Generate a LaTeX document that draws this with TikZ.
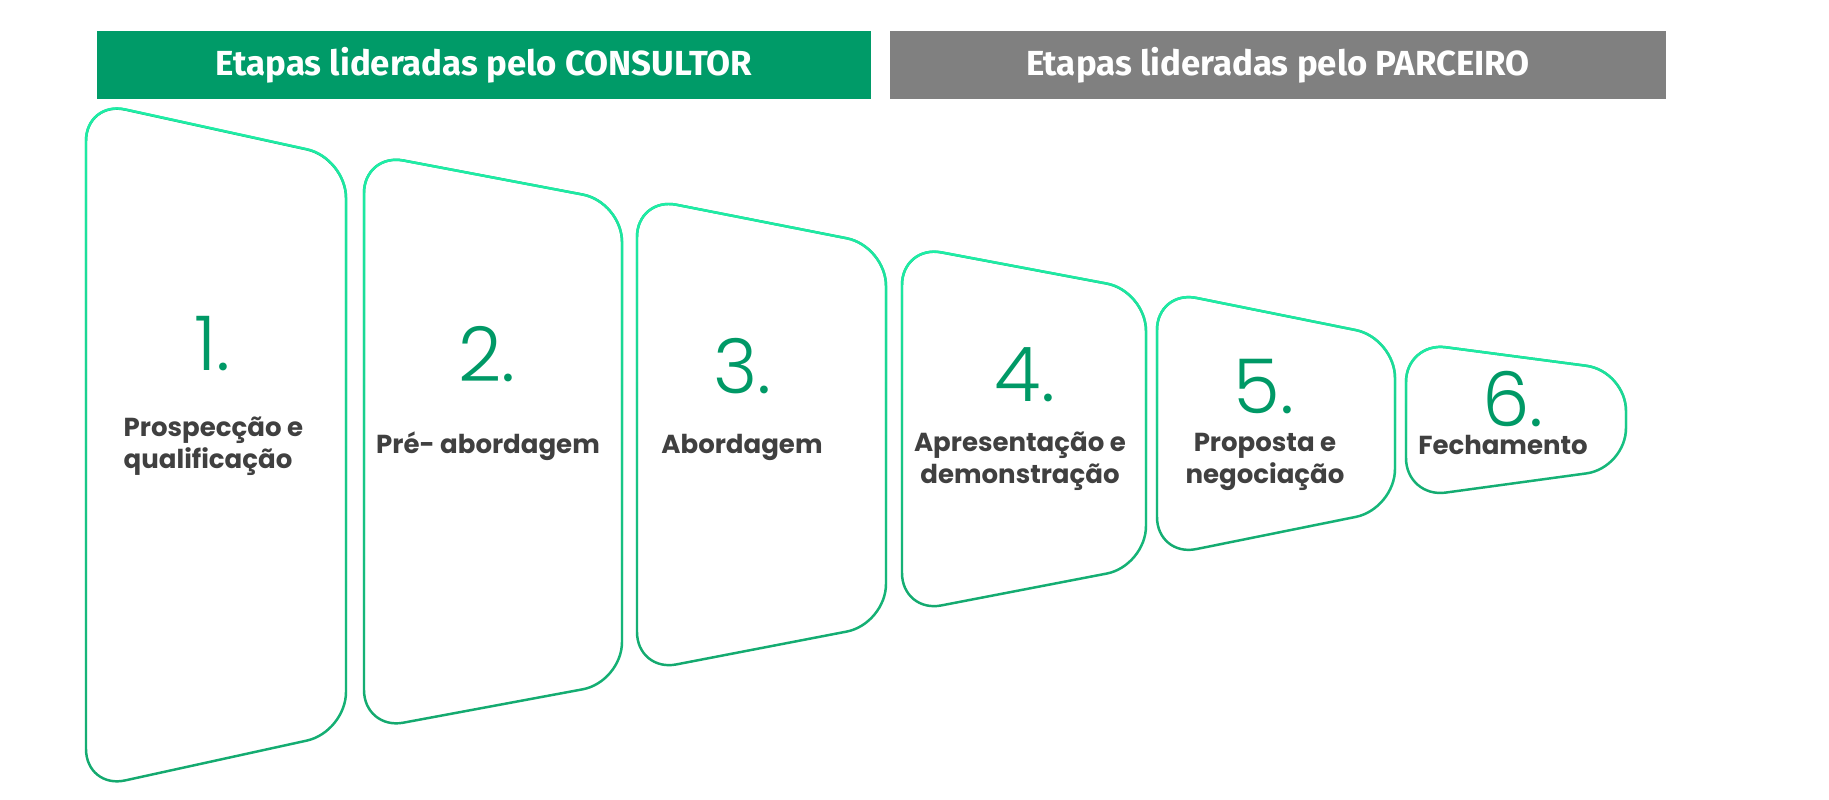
\documentclass[tikz,border=0pt]{standalone}
\usepackage{fontspec}
\setmainfont{Poppins}
\newfontfamily\headfont{Fira Sans}
\newfontfamily\numfont{Poppins Light}
\usetikzlibrary{fadings}
\definecolor{consultor}{RGB}{0,155,104}
\definecolor{parceiro}{RGB}{128,128,128}
\definecolor{numgreen}{RGB}{0,153,102}
\definecolor{labelgray}{RGB}{64,64,64}
\definecolor{edgetop}{RGB}{30,240,168}
\definecolor{edgebot}{RGB}{20,168,110}

\tikzset{
  header/.style={fill=#1, inner sep=0pt, minimum height=0.68cm, text=white,
    font=\headfont\bfseries\fontsize{9.9}{11}\selectfont},
  stage/.style={draw=edgebot, line width=0.7pt, rounded corners=0.4cm,
    postaction={draw=edgetop, path fading=south}},
  stepnum/.style={numgreen, inner sep=0pt, anchor=base, font=\numfont\fontsize{21.5}{24}\selectfont},
  steplabel/.style={labelgray, inner sep=0pt, align=center, font=\bfseries\fontsize{7.4}{9}\selectfont}
}

\begin{document}
\begin{tikzpicture}[x=0.01cm, y=-0.01cm]
\useasboundingbox (0,0) rectangle (1829,800);
% Header bars
\node[header=consultor, minimum width=7.74cm] (consultor) at (484,65) {Etapas lideradas pelo CONSULTOR};
\node[header=parceiro, minimum width=7.76cm] (parceiro) at (1278,65) {Etapas lideradas pelo PARCEIRO};

% Funnel stages (left x / right x / top left / top right / bottom right / bottom left)
\foreach \lx/\rx/\tl/\tr/\br/\bl in {86/346/101/158/732/789, 364/622/153/202/682/730,
    637/886/197/246/624/672, 902/1146/245/291/566/613, 1157/1395/290/338/509/557,
    1406/1626/342/371/468/498}
  \draw[stage] (\lx,\tl) -- (\rx,\tr) -- (\rx,\br) -- (\lx,\bl) -- cycle;

% Step numbers
\node[stepnum] (n1) at (212,370) {1.};
\node[stepnum] (n2) at (487,381) {2.};
\node[stepnum] (n3) at (742,393) {3.};
\node[stepnum] (n4) at (1025,401) {4.};
\node[stepnum] (n5) at (1264,413) {5.};
\node[stepnum] (n6) at (1513,426) {6.};

% Step labels
\node[steplabel, align=left, anchor=west] (l1) at (123,446) {Prospecção e\\qualificação};
\node[steplabel, anchor=base] (l2) at (488,453) {Pré- abordagem};
\node[steplabel, anchor=base] (l3) at (742,453) {Abordagem};
\node[steplabel] (l4) at (1020,461) {Apresentação e\\demonstração};
\node[steplabel] (l5) at (1265,462) {Proposta e\\negociação};
\node[steplabel, anchor=base] (l6) at (1503,454) {Fechamento};
\end{tikzpicture}
\end{document}
